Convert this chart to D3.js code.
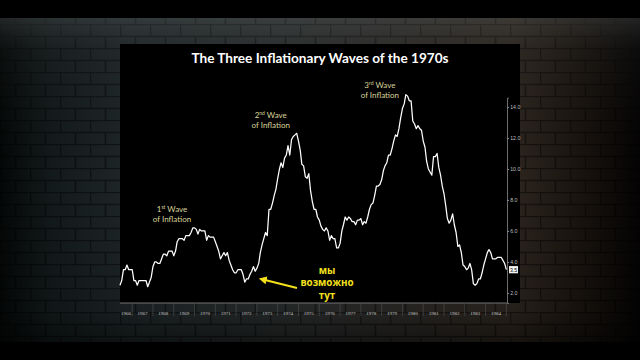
<!DOCTYPE html>
<html>
<head>
<meta charset="utf-8">
<script src="https://cdn.jsdelivr.net/npm/d3@7"></script>
<style>
  html, body { margin: 0; padding: 0; background: #000; }
  svg { display: block; }
</style>
</head>
<body>
<svg id="chart" width="640" height="360"></svg>
<script>
// ---- data (US CPI, year-over-year %, monthly from Jun 1966 to Jan 1985) ----
const startYear = 1966;
const startMonth = 6; // June
const cpiYoY = [
  2.5, 2.8, 3.5, 3.5, 3.8, 3.5, 3.5,
  3.5, 2.8, 2.8, 2.5, 2.8, 2.8, 2.8, 2.8, 2.8, 2.4, 2.7, 3.0,
  3.7, 4.0, 4.0, 3.9, 3.9, 4.2, 4.5, 4.5, 4.4, 4.7, 4.7, 4.7,
  4.4, 4.7, 5.3, 5.5, 5.5, 5.5, 5.4, 5.7, 5.7, 5.7, 5.9, 6.2,
  6.2, 6.1, 5.8, 6.1, 6.0, 6.0, 6.0, 5.4, 5.7, 5.6, 5.6, 5.6,
  5.3, 5.0, 4.7, 4.2, 4.4, 4.6, 4.4, 4.6, 4.1, 3.8, 3.5, 3.3,
  3.3, 3.5, 3.5, 3.5, 3.2, 2.7, 2.9, 2.9, 3.2, 3.4, 3.7, 3.4,
  3.6, 3.9, 4.6, 5.1, 5.5, 5.9, 5.7, 7.4, 7.4, 7.8, 8.3, 8.7,
  9.4, 10.0, 10.4, 10.1, 10.7, 10.9, 11.5, 10.9, 11.9, 12.1, 12.2, 12.3,
  11.8, 11.2, 10.3, 10.2, 9.5, 9.4, 9.7, 8.6, 7.9, 7.4, 7.4, 6.9,
  6.7, 6.3, 6.1, 6.0, 6.2, 6.0, 5.4, 5.7, 5.5, 5.5, 4.9, 4.9,
  5.2, 6.0, 6.4, 6.9, 6.7, 6.9, 6.8, 6.6, 6.6, 6.4, 6.7, 6.7,
  6.8, 6.4, 6.6, 6.5, 6.9, 7.4, 7.7, 7.8, 8.3, 8.9, 8.9, 9.0,
  9.3, 9.9, 10.2, 10.4, 10.9, 10.9, 11.3, 11.8, 12.2, 12.1, 12.6, 13.3,
  13.9, 14.2, 14.8, 14.7, 14.4, 14.4, 13.1, 12.9, 12.6, 12.8, 12.6, 12.5,
  11.8, 11.4, 10.5, 10.0, 9.8, 9.6, 10.8, 10.8, 11.0, 10.1, 9.6, 8.9,
  8.4, 7.6, 6.8, 6.5, 6.7, 7.1, 6.4, 5.9, 5.0, 5.1, 4.6, 3.8,
  3.7, 3.5, 3.6, 3.9, 3.5, 2.6, 2.5, 2.6, 2.9, 2.9, 3.3, 3.8,
  4.2, 4.6, 4.8, 4.6, 4.2, 4.2, 4.2, 4.3, 4.3, 4.3, 4.1, 3.9,
  3.5
];
const yearLabels = ["1966","1967","1968","1969","1970","1971","1972","1973","1974","1975",
                    "1976","1977","1978","1979","1980","1981","1982","1983","1984"];
const yTicks = [2, 4, 6, 8, 10, 12, 14];
const lastValueLabel = "3.5";
const titleText = "The Three Inflationary Waves of the 1970s";
const waveLabels = [
  { n: "1", sup: "st", date: [1968, 12], v: 7.23 },
  { n: "2", sup: "nd", date: [1973, 9], v: 13.3 },
  { n: "3", sup: "rd", date: [1978, 12], v: 15.23 }
];
const noteLines = ["мы", "возможно", "тут"];

// ---- layout ----
const W = 640, H = 360;
const svg = d3.select("#chart");
const defs = svg.append("defs");

// background gradients
const gH = defs.append("linearGradient").attr("id", "wallH").attr("x1", 0).attr("x2", 1).attr("y1", 0).attr("y2", 0);
[[0, "#050707"], [0.08, "#131a1b"], [0.2, "#1e2628"], [0.45, "#2a2d2d"], [0.6, "#2b2a28"],
 [0.8, "#2d261f"], [0.92, "#16110d"], [1, "#040303"]].forEach(([o, c]) =>
  gH.append("stop").attr("offset", o).attr("stop-color", c));
const gV = defs.append("linearGradient").attr("id", "wallV").attr("x1", 0).attr("x2", 0).attr("y1", 0).attr("y2", 1);
[[0, "rgba(90,95,95,0.35)"], [0.1, "rgba(60,62,62,0.15)"], [0.5, "rgba(0,0,0,0)"],
 [0.9, "rgba(0,0,0,0.15)"], [1, "rgba(0,0,0,0.5)"]].forEach(([o, c]) =>
  gV.append("stop").attr("offset", o).attr("stop-color", c));
const pat = defs.append("pattern").attr("id", "bricks").attr("patternUnits", "userSpaceOnUse")
  .attr("width", 30).attr("height", 24);
pat.append("path").attr("d", "M0,0.5H30M0,12.5H30M0.5,0V12M15.5,12V24")
  .attr("stroke", "rgba(0,0,0,0.45)").attr("stroke-width", 1.6).attr("fill", "none");

svg.append("rect").attr("width", W).attr("height", H).attr("fill", "#000");
svg.append("rect").attr("x", 0).attr("y", 18).attr("width", W).attr("height", 324).attr("fill", "url(#wallH)");
svg.append("rect").attr("x", 0).attr("y", 18).attr("width", W).attr("height", 324).attr("fill", "url(#bricks)");
svg.append("rect").attr("x", 0).attr("y", 18).attr("width", W).attr("height", 324).attr("fill", "url(#wallV)");

// black chart panel
svg.append("rect").attr("x", 120).attr("y", 44).attr("width", 400).attr("height", 259).attr("fill", "#000");

// ---- scales ----
const dates = cpiYoY.map((v, i) => new Date(startYear, startMonth - 1 + i, 1));
const x = d3.scaleTime()
  .domain([new Date(1966, 5, 1), new Date(1985, 0, 1)])
  .range([120, 506.4]);
const y = d3.scaleLinear().domain([1.35, 14.6]).range([303, 97.7]);

// ---- x axis ----
const xAxisY = 303;
svg.append("line").attr("x1", 120).attr("x2", 507).attr("y1", xAxisY).attr("y2", xAxisY)
  .attr("stroke", "#8a8a8a").attr("stroke-width", 0.8);
const yearStarts = d3.range(1967, 1986).map(yr => new Date(yr, 0, 1));
svg.append("g").selectAll("line").data(yearStarts).join("line")
  .attr("x1", d => x(d)).attr("x2", d => x(d))
  .attr("y1", xAxisY).attr("y2", xAxisY + 13)
  .attr("stroke", "#4a4a4a").attr("stroke-width", 0.7);
svg.append("g").selectAll("text").data(yearLabels).join("text")
  .attr("x", d => {
    const yr = +d;
    const a = Math.max(x(new Date(yr, 0, 1)), 120);
    const b = Math.min(x(new Date(yr + 1, 0, 1)), 507);
    return (a + b) / 2;
  })
  .attr("y", 314.5)
  .attr("text-anchor", "middle")
  .attr("font-family", "'Liberation Serif', 'DejaVu Serif', serif")
  .attr("font-size", 5)
  .attr("fill", "#c8c8c8")
  .text(d => d);

// ---- right y axis ----
const yAxis = d3.axisRight(y).tickValues(yTicks).tickSize(2).tickPadding(1.2)
  .tickFormat(d3.format(".1f"));
const gy = svg.append("g").attr("transform", "translate(507,0)").call(yAxis);
gy.select(".domain").attr("stroke", "#8a8a8a").attr("stroke-width", 0.8);
gy.selectAll(".tick line").attr("stroke", "#8a8a8a");
gy.selectAll(".tick text").attr("fill", "#bdbdbd")
  .attr("font-family", "'Liberation Sans', sans-serif").attr("font-size", 5.2);

// ---- line ----
const line = d3.line().x((d, i) => x(dates[i])).y(d => y(d));
svg.append("path").datum(cpiYoY).attr("d", line)
  .attr("fill", "none").attr("stroke", "#ffffff").attr("stroke-width", 1.25)
  .attr("stroke-linejoin", "round");

// last value box
const lastY = y(cpiYoY[cpiYoY.length - 1]);
svg.append("rect").attr("x", 509).attr("y", lastY - 3.6).attr("width", 9).attr("height", 7.2)
  .attr("fill", "#f2f2f2");
svg.append("text").attr("x", 513.5).attr("y", lastY + 2)
  .attr("text-anchor", "middle").attr("font-family", "'Liberation Sans', sans-serif")
  .attr("font-size", 5.2).attr("fill", "#000").text(lastValueLabel);

// ---- title ----
svg.append("text").attr("x", 320).attr("y", 63).attr("text-anchor", "middle")
  .attr("font-family", "Lato, 'Open Sans', sans-serif").attr("font-weight", 700)
  .attr("font-size", 13.6).attr("fill", "#ffffff").text(titleText);

// ---- wave labels ----
const wl = svg.append("g").selectAll("g").data(waveLabels).join("g");
wl.each(function (d) {
  const g = d3.select(this);
  const cx = x(new Date(d.date[0], d.date[1] - 1, 1));
  const by = y(d.v);
  const t1 = g.append("text").attr("x", cx).attr("y", by).attr("text-anchor", "middle")
    .attr("font-family", "Lato, sans-serif").attr("font-size", 8).attr("fill", "#d9d49b");
  t1.append("tspan").text(d.n);
  t1.append("tspan").attr("font-size", 5).attr("dy", -3).text(d.sup);
  t1.append("tspan").attr("dy", 3).text(" Wave");
  g.append("text").attr("x", cx).attr("y", by + 10.5).attr("text-anchor", "middle")
    .attr("font-family", "Lato, sans-serif").attr("font-size", 8).attr("fill", "#d9d49b")
    .text("of Inflation");
});

// ---- yellow note and arrow ----
const yellow = "#f5e01c";
const noteX = 327;
svg.append("g").selectAll("text").data(noteLines).join("text")
  .attr("x", noteX).attr("y", (d, i) => 273.5 + i * 12.8)
  .attr("text-anchor", "middle")
  .attr("font-family", "'Open Sans', sans-serif").attr("font-weight", 700)
  .attr("font-size", 9.8).attr("fill", yellow).text(d => d);

defs.append("marker").attr("id", "ah").attr("viewBox", "0 0 10 10").attr("refX", 2).attr("refY", 5)
  .attr("markerWidth", 4).attr("markerHeight", 4).attr("orient", "auto-start-reverse")
  .append("path").attr("d", "M0,0L10,5L0,10Z").attr("fill", yellow);
svg.append("line")
  .attr("x1", 297).attr("y1", 288)
  .attr("x2", 265).attr("y2", 280)
  .attr("stroke", yellow).attr("stroke-width", 2)
  .attr("marker-end", "url(#ah)");
</script>
</body>
</html>
